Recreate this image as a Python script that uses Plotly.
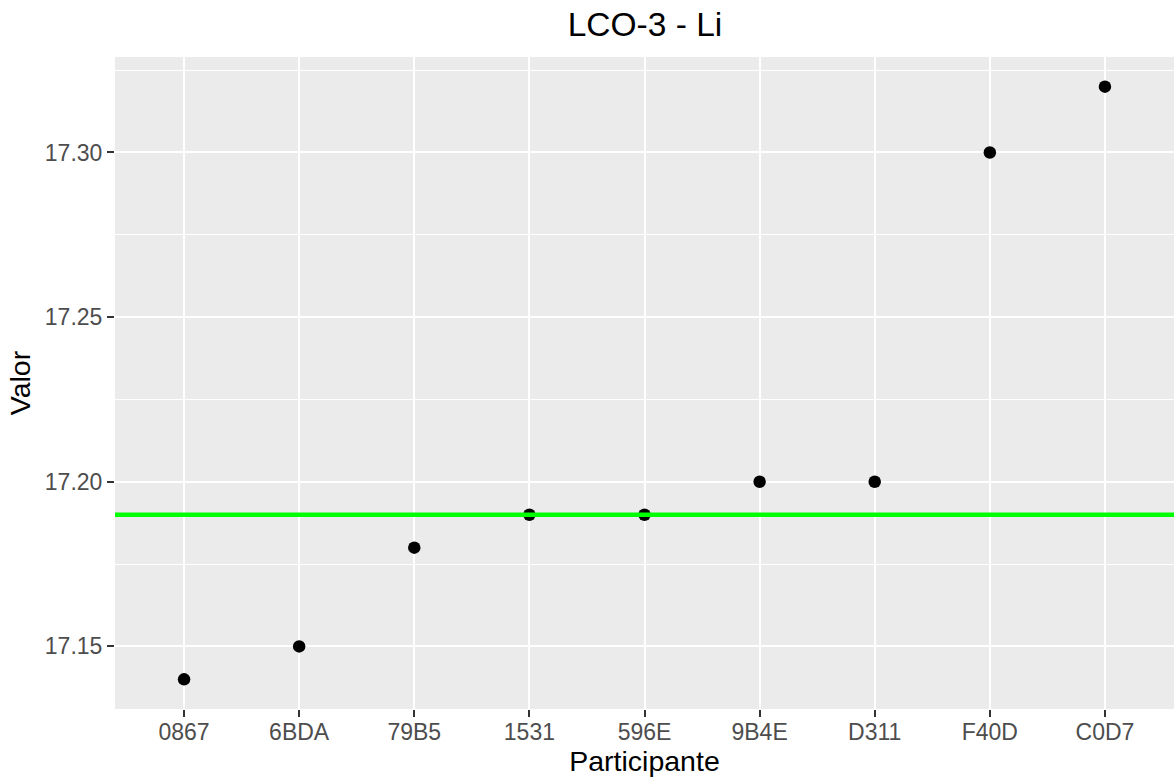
import plotly.graph_objects as go

participantes = ["0867", "6BDA", "79B5", "1531", "596E", "9B4E", "D311", "F40D", "C0D7"]
valores = [17.14, 17.15, 17.18, 17.19, 17.19, 17.20, 17.20, 17.30, 17.32]
valor_referencia = 17.19
y_ticks = [17.15, 17.20, 17.25, 17.30]
y_tick_labels = ["17.15", "17.20", "17.25", "17.30"]

FONT = "Liberation Sans, Arial, sans-serif"

fig = go.Figure()
fig.add_trace(go.Scatter(
    x=participantes, y=valores, mode="markers",
    marker=dict(color="black", size=12.5),
    showlegend=False, cliponaxis=False,
))
fig.add_hline(y=valor_referencia, line=dict(color="#00FF00", width=4.5), layer="above")

fig.update_layout(
    width=1174, height=778,
    margin=dict(l=115, r=0, t=57, b=69),
    paper_bgcolor="white", plot_bgcolor="#EBEBEB",
    font=dict(family=FONT, color="#4D4D4D", size=23),
    title=dict(text="LCO-3 - Li", x=645 / 1174, xanchor="center",
               y=1 - 24 / 778, yanchor="middle",
               font=dict(family=FONT, size=33.5, color="black")),
)
fig.update_xaxes(
    type="category", categoryorder="array", categoryarray=participantes,
    range=[-0.6, len(participantes) - 0.4],
    showgrid=True, gridcolor="white", gridwidth=2.2,
    ticks="outside", ticklen=7, tickwidth=2, tickcolor="#333333",
    ticklabelstandoff=-5,
    tickfont=dict(family=FONT, size=23, color="#4D4D4D"),
    title=dict(text="Participante", font=dict(family=FONT, size=28.5, color="black"), standoff=7),
    zeroline=False, showline=False, automargin=False,
)
fig.update_yaxes(
    range=[17.131, 17.329],
    tickvals=y_ticks, ticktext=y_tick_labels,
    showgrid=True, gridcolor="white", gridwidth=2.2,
    minor=dict(dtick=0.025, tick0=17.125, showgrid=True, gridcolor="white", gridwidth=1.1, ticks=""),
    ticks="outside", ticklen=7, tickwidth=2, tickcolor="#333333",
    tickfont=dict(family=FONT, size=23, color="#4D4D4D"),
    title=dict(text="Valor", font=dict(family=FONT, size=28.5, color="black"), standoff=5),
    zeroline=False, showline=False, automargin=False,
)

fig.write_html("out.html", config={"displayModeBar": False},
               post_script="document.body.style.margin='0';")
